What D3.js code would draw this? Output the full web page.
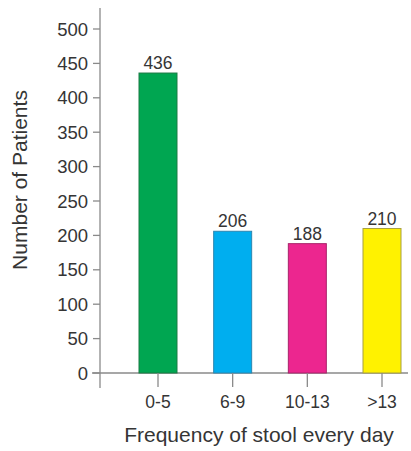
<!DOCTYPE html>
<html>
<head>
<meta charset="utf-8">
<script src="https://cdn.jsdelivr.net/npm/d3@7"></script>
<style>
  html, body { margin: 0; padding: 0; background: #fff; }
  svg { display: block; font-family: "Liberation Sans", Arial, sans-serif; }
</style>
</head>
<body>
<svg id="chart" width="411" height="451"></svg>
<script>
// Stool frequency groups and patient counts
const categories = ["0-5", "6-9", "10-13", ">13"];
const patients = [436, 206, 188, 210];
const barFills = ["#00a651", "#00aeef", "#ec268f", "#fff200"];
const barStrokes = ["#1b7a44", "#2b86b0", "#a8236a", "#a8a040"];
const yTicks = [0, 50, 100, 150, 200, 250, 300, 350, 400, 450, 500];

const svg = d3.select("#chart");
const axisColor = "#8a8a8a";
const textColor = "#353535";

const x0 = 100, y0 = 373;
const y = d3.scaleLinear().domain([0, 500]).range([y0, 29]);
const x = d3.scalePoint().domain(categories).range([158, 382]);
const barW = 38;

// axis lines
svg.append("line").attr("x1", x0).attr("x2", x0).attr("y1", 8).attr("y2", 388)
  .attr("stroke", axisColor).attr("stroke-width", 1.3);
svg.append("line").attr("x1", 92).attr("x2", 408).attr("y1", y0).attr("y2", y0)
  .attr("stroke", axisColor).attr("stroke-width", 1.3);

// y axis ticks and labels
const yAxis = svg.append("g");
yTicks.forEach(t => {
  yAxis.append("line").attr("x1", 93).attr("x2", x0).attr("y1", y(t)).attr("y2", y(t))
    .attr("stroke", axisColor).attr("stroke-width", 1.3);
  yAxis.append("text").attr("x", 88).attr("y", y(t)).attr("dy", "0.36em")
    .attr("text-anchor", "end").attr("font-size", 18.5).attr("fill", textColor).text(t);
});

// bars
svg.selectAll("rect.bar").data(categories).enter().append("rect")
  .attr("class", "bar")
  .attr("x", d => x(d) - barW / 2)
  .attr("width", barW)
  .attr("y", (d, i) => y(patients[i]))
  .attr("height", (d, i) => y0 - y(patients[i]))
  .attr("fill", (d, i) => barFills[i])
  .attr("stroke", (d, i) => barStrokes[i])
  .attr("stroke-width", 1);

// value labels
svg.selectAll("text.val").data(categories).enter().append("text")
  .attr("class", "val")
  .attr("x", d => x(d))
  .attr("y", (d, i) => y(patients[i]) - 4)
  .attr("text-anchor", "middle").attr("font-size", 17.5).attr("fill", textColor)
  .text((d, i) => patients[i]);

// x axis ticks and labels
categories.forEach(c => {
  svg.append("line").attr("x1", x(c)).attr("x2", x(c)).attr("y1", y0).attr("y2", 387)
    .attr("stroke", axisColor).attr("stroke-width", 1.3);
  svg.append("text").attr("x", x(c)).attr("y", 408)
    .attr("text-anchor", "middle").attr("font-size", 17.5).attr("fill", textColor).text(c);
});

// axis titles
svg.append("text").attr("x", 259).attr("y", 442)
  .attr("text-anchor", "middle").attr("font-size", 21).attr("fill", textColor)
  .text("Frequency of stool every day");
svg.append("text").attr("transform", "translate(27,180) rotate(-90)")
  .attr("text-anchor", "middle").attr("font-size", 21).attr("fill", textColor)
  .text("Number of Patients");
</script>
</body>
</html>
